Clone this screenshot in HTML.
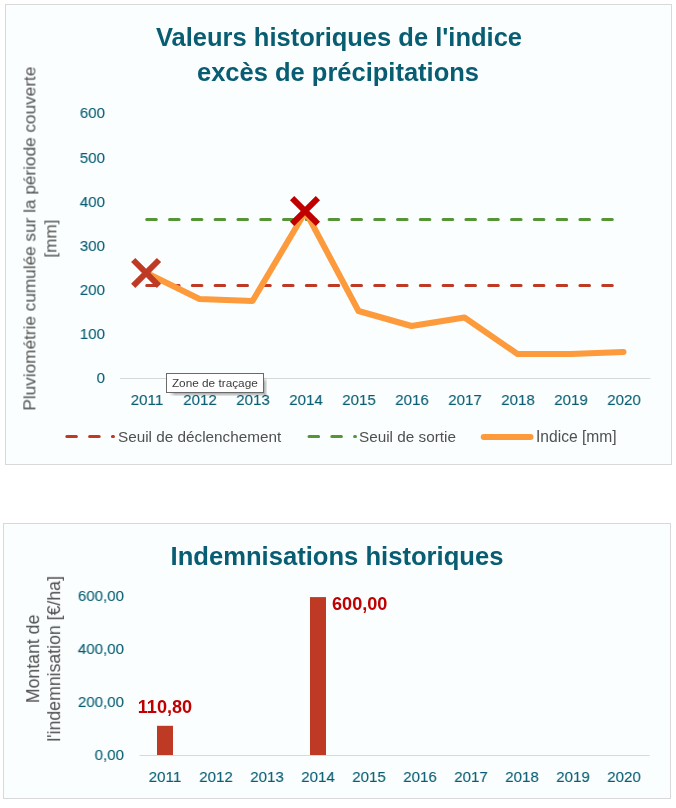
<!DOCTYPE html>
<html><head><meta charset="utf-8">
<style>
html,body{margin:0;padding:0;background:#fff;}
body{width:676px;height:808px;position:relative;overflow:hidden;font-family:"Liberation Sans",sans-serif;}
.box{position:absolute;box-sizing:border-box;border:1px solid #D9D9D9;background:#FAFEFE;}
.t{position:absolute;white-space:pre;will-change:transform;}
.tip{position:absolute;box-sizing:border-box;left:166px;top:373px;width:98px;height:20px;background:#fff;border:1px solid #6A6A6A;font-size:11.8px;color:#3C3C3C;}
.shr{position:absolute;left:264px;top:377px;width:3px;height:19px;background:linear-gradient(to right,rgba(0,0,0,0.32),rgba(0,0,0,0.08));-webkit-mask-image:linear-gradient(to bottom,transparent 0,#000 5px);}
.shb{position:absolute;left:169px;top:393px;width:95px;height:3px;background:linear-gradient(to bottom,rgba(0,0,0,0.32),rgba(0,0,0,0.08));-webkit-mask-image:linear-gradient(to right,transparent 0,#000 6px);}
</style></head><body>
<div class="box" style="left:5px;top:4px;width:667px;height:461px"></div>
<div class="box" style="left:3px;top:523px;width:668px;height:276px"></div>
<svg width="676" height="808" style="position:absolute;left:0;top:0">
<line x1="120" y1="378.5" x2="650.5" y2="378.5" stroke="#D9D9D9" stroke-width="1"/>
<line x1="146.7" y1="285.4" x2="623.5" y2="285.4" stroke="#BF3A24" stroke-width="3" stroke-linecap="round" stroke-dasharray="9.6 13.2"/>
<line x1="146.7" y1="219.4" x2="623.5" y2="219.4" stroke="#569536" stroke-width="3" stroke-linecap="round" stroke-dasharray="9.6 13.2"/>
<polyline points="146.5,273.0 199.5,299.0 252.5,301.0 305.5,211.5 358.5,311.0 411.5,326.0 464.5,317.5 517.5,354.0 570.5,354.0 623.5,352.0" fill="none" stroke="#FD9A3C" stroke-width="6" stroke-linejoin="round" stroke-linecap="round"/>
<path d="M133.2,260.0L159.0,285.79999999999995M159.0,260.0L133.2,285.79999999999995" stroke="#BF3A24" stroke-width="6" fill="none" stroke-linecap="butt"/>
<path d="M292.1,198.1L317.9,223.9M317.9,198.1L292.1,223.9" stroke="#C00000" stroke-width="6" fill="none" stroke-linecap="butt"/>
<!-- legend samples -->
<line x1="66.8" y1="436.5" x2="113.5" y2="436.5" stroke="#BF3A24" stroke-width="3" stroke-linecap="round" stroke-dasharray="9.6 13.2"/>
<line x1="309" y1="436.5" x2="355.5" y2="436.5" stroke="#569536" stroke-width="3" stroke-linecap="round" stroke-dasharray="9.6 13.2"/>
<line x1="483.7" y1="436.9" x2="530.5" y2="436.9" stroke="#FD9A3C" stroke-width="6" stroke-linecap="round"/>
<!-- chart 2 -->
<line x1="139.5" y1="755.5" x2="649.5" y2="755.5" stroke="#D9D9D9" stroke-width="1"/>
<rect x="157" y="725.8" width="16" height="29.2" fill="#BF3A24"/>
<rect x="310" y="597.1" width="16" height="157.9" fill="#BF3A24"/>
</svg>
<div class="t" style="top:24.71px;font-size:25.5px;line-height:25.5px;color:#085D72;font-weight:bold;left:-61.40px;width:800px;text-align:center;">Valeurs historiques de l'indice</div>
<div class="t" style="top:59.91px;font-size:25.5px;line-height:25.5px;color:#085D72;font-weight:bold;left:-62.20px;width:800px;text-align:center;">excès de précipitations</div>
<div class="t" style="left:-270.06px;top:229.90px;width:600px;font-size:17.2px;line-height:17.2px;color:#505050;text-align:center;transform:rotate(-90deg) scaleX(1.0);transform-origin:center center;">Pluviométrie cumulée sur la période couverte</div>
<div class="t" style="left:-248.76px;top:229.90px;width:600px;font-size:17.2px;line-height:17.2px;color:#505050;text-align:center;transform:rotate(-90deg) scaleX(1.0);transform-origin:center center;">[mm]</div>
<div class="t" style="top:105.45px;font-size:15.3px;line-height:15.3px;color:#085D72;-webkit-text-stroke:0.12px #085D72;left:-695.20px;width:800px;text-align:right;transform:scaleX(0.986);transform-origin:right center;">600</div>
<div class="t" style="top:149.55px;font-size:15.3px;line-height:15.3px;color:#085D72;-webkit-text-stroke:0.12px #085D72;left:-695.20px;width:800px;text-align:right;transform:scaleX(0.986);transform-origin:right center;">500</div>
<div class="t" style="top:193.65px;font-size:15.3px;line-height:15.3px;color:#085D72;-webkit-text-stroke:0.12px #085D72;left:-695.20px;width:800px;text-align:right;transform:scaleX(0.986);transform-origin:right center;">400</div>
<div class="t" style="top:237.75px;font-size:15.3px;line-height:15.3px;color:#085D72;-webkit-text-stroke:0.12px #085D72;left:-695.20px;width:800px;text-align:right;transform:scaleX(0.986);transform-origin:right center;">300</div>
<div class="t" style="top:281.85px;font-size:15.3px;line-height:15.3px;color:#085D72;-webkit-text-stroke:0.12px #085D72;left:-695.20px;width:800px;text-align:right;transform:scaleX(0.986);transform-origin:right center;">200</div>
<div class="t" style="top:325.95px;font-size:15.3px;line-height:15.3px;color:#085D72;-webkit-text-stroke:0.12px #085D72;left:-695.20px;width:800px;text-align:right;transform:scaleX(0.986);transform-origin:right center;">100</div>
<div class="t" style="top:370.05px;font-size:15.3px;line-height:15.3px;color:#085D72;-webkit-text-stroke:0.12px #085D72;left:-695.20px;width:800px;text-align:right;transform:scaleX(0.986);transform-origin:right center;">0</div>
<div class="t" style="top:392.45px;font-size:15.3px;line-height:15.3px;color:#085D72;-webkit-text-stroke:0.12px #085D72;left:-253.50px;width:800px;text-align:center;transform:scaleX(0.986);transform-origin:center center;">2011</div>
<div class="t" style="top:392.45px;font-size:15.3px;line-height:15.3px;color:#085D72;-webkit-text-stroke:0.12px #085D72;left:-200.50px;width:800px;text-align:center;transform:scaleX(0.986);transform-origin:center center;">2012</div>
<div class="t" style="top:392.45px;font-size:15.3px;line-height:15.3px;color:#085D72;-webkit-text-stroke:0.12px #085D72;left:-147.50px;width:800px;text-align:center;transform:scaleX(0.986);transform-origin:center center;">2013</div>
<div class="t" style="top:392.45px;font-size:15.3px;line-height:15.3px;color:#085D72;-webkit-text-stroke:0.12px #085D72;left:-94.50px;width:800px;text-align:center;transform:scaleX(0.986);transform-origin:center center;">2014</div>
<div class="t" style="top:392.45px;font-size:15.3px;line-height:15.3px;color:#085D72;-webkit-text-stroke:0.12px #085D72;left:-41.50px;width:800px;text-align:center;transform:scaleX(0.986);transform-origin:center center;">2015</div>
<div class="t" style="top:392.45px;font-size:15.3px;line-height:15.3px;color:#085D72;-webkit-text-stroke:0.12px #085D72;left:11.50px;width:800px;text-align:center;transform:scaleX(0.986);transform-origin:center center;">2016</div>
<div class="t" style="top:392.45px;font-size:15.3px;line-height:15.3px;color:#085D72;-webkit-text-stroke:0.12px #085D72;left:64.50px;width:800px;text-align:center;transform:scaleX(0.986);transform-origin:center center;">2017</div>
<div class="t" style="top:392.45px;font-size:15.3px;line-height:15.3px;color:#085D72;-webkit-text-stroke:0.12px #085D72;left:117.50px;width:800px;text-align:center;transform:scaleX(0.986);transform-origin:center center;">2018</div>
<div class="t" style="top:392.45px;font-size:15.3px;line-height:15.3px;color:#085D72;-webkit-text-stroke:0.12px #085D72;left:170.50px;width:800px;text-align:center;transform:scaleX(0.986);transform-origin:center center;">2019</div>
<div class="t" style="top:392.45px;font-size:15.3px;line-height:15.3px;color:#085D72;-webkit-text-stroke:0.12px #085D72;left:223.50px;width:800px;text-align:center;transform:scaleX(0.986);transform-origin:center center;">2020</div>
<div class="t" style="top:429.25px;font-size:15.3px;line-height:15.3px;color:#505050;left:117.60px;">Seuil de déclenchement</div>
<div class="t" style="top:429.25px;font-size:15.3px;line-height:15.3px;color:#505050;left:359.20px;">Seuil de sortie</div>
<div class="t" style="top:428.99px;font-size:15.6px;line-height:15.6px;color:#505050;left:536.10px;">Indice [mm]</div>
<div class="t" style="top:543.63px;font-size:25.6px;line-height:25.6px;color:#085D72;font-weight:bold;left:-62.80px;width:800px;text-align:center;">Indemnisations historiques</div>
<div class="t" style="left:-266.43px;top:650.15px;width:600px;font-size:17.7px;line-height:17.7px;color:#505050;text-align:center;transform:rotate(-90deg) scaleX(1.0);transform-origin:center center;">Montant de</div>
<div class="t" style="left:-244.73px;top:650.15px;width:600px;font-size:17.7px;line-height:17.7px;color:#505050;text-align:center;transform:rotate(-90deg) scaleX(1.0);transform-origin:center center;">l'indemnisation [€/ha]</div>
<div class="t" style="top:588.05px;font-size:15.3px;line-height:15.3px;color:#085D72;-webkit-text-stroke:0.12px #085D72;left:-676.20px;width:800px;text-align:right;transform:scaleX(0.986);transform-origin:right center;">600,00</div>
<div class="t" style="top:641.15px;font-size:15.3px;line-height:15.3px;color:#085D72;-webkit-text-stroke:0.12px #085D72;left:-676.20px;width:800px;text-align:right;transform:scaleX(0.986);transform-origin:right center;">400,00</div>
<div class="t" style="top:694.25px;font-size:15.3px;line-height:15.3px;color:#085D72;-webkit-text-stroke:0.12px #085D72;left:-676.20px;width:800px;text-align:right;transform:scaleX(0.986);transform-origin:right center;">200,00</div>
<div class="t" style="top:747.35px;font-size:15.3px;line-height:15.3px;color:#085D72;-webkit-text-stroke:0.12px #085D72;left:-676.20px;width:800px;text-align:right;transform:scaleX(0.986);transform-origin:right center;">0,00</div>
<div class="t" style="top:768.85px;font-size:15.3px;line-height:15.3px;color:#085D72;-webkit-text-stroke:0.12px #085D72;left:-234.90px;width:800px;text-align:center;transform:scaleX(0.986);transform-origin:center center;">2011</div>
<div class="t" style="top:768.85px;font-size:15.3px;line-height:15.3px;color:#085D72;-webkit-text-stroke:0.12px #085D72;left:-183.90px;width:800px;text-align:center;transform:scaleX(0.986);transform-origin:center center;">2012</div>
<div class="t" style="top:768.85px;font-size:15.3px;line-height:15.3px;color:#085D72;-webkit-text-stroke:0.12px #085D72;left:-132.90px;width:800px;text-align:center;transform:scaleX(0.986);transform-origin:center center;">2013</div>
<div class="t" style="top:768.85px;font-size:15.3px;line-height:15.3px;color:#085D72;-webkit-text-stroke:0.12px #085D72;left:-81.90px;width:800px;text-align:center;transform:scaleX(0.986);transform-origin:center center;">2014</div>
<div class="t" style="top:768.85px;font-size:15.3px;line-height:15.3px;color:#085D72;-webkit-text-stroke:0.12px #085D72;left:-30.90px;width:800px;text-align:center;transform:scaleX(0.986);transform-origin:center center;">2015</div>
<div class="t" style="top:768.85px;font-size:15.3px;line-height:15.3px;color:#085D72;-webkit-text-stroke:0.12px #085D72;left:20.10px;width:800px;text-align:center;transform:scaleX(0.986);transform-origin:center center;">2016</div>
<div class="t" style="top:768.85px;font-size:15.3px;line-height:15.3px;color:#085D72;-webkit-text-stroke:0.12px #085D72;left:71.10px;width:800px;text-align:center;transform:scaleX(0.986);transform-origin:center center;">2017</div>
<div class="t" style="top:768.85px;font-size:15.3px;line-height:15.3px;color:#085D72;-webkit-text-stroke:0.12px #085D72;left:122.10px;width:800px;text-align:center;transform:scaleX(0.986);transform-origin:center center;">2018</div>
<div class="t" style="top:768.85px;font-size:15.3px;line-height:15.3px;color:#085D72;-webkit-text-stroke:0.12px #085D72;left:173.10px;width:800px;text-align:center;transform:scaleX(0.986);transform-origin:center center;">2019</div>
<div class="t" style="top:768.85px;font-size:15.3px;line-height:15.3px;color:#085D72;-webkit-text-stroke:0.12px #085D72;left:224.10px;width:800px;text-align:center;transform:scaleX(0.986);transform-origin:center center;">2020</div>
<div class="t" style="top:699.19px;font-size:17.5px;line-height:17.5px;color:#C00000;font-weight:bold;left:-235.00px;width:800px;text-align:center;transform:scaleX(1.035);transform-origin:center center;">110,80</div>
<div class="t" style="top:595.99px;font-size:17.5px;line-height:17.5px;color:#C00000;font-weight:bold;left:331.80px;transform:scaleX(1.035);transform-origin:left center;">600,00</div>
<div class="shr"></div><div class="shb"></div>
<div class="tip"><span style="position:absolute;left:4.9px;top:1.9px;line-height:14px">Zone de traçage</span></div>
</body></html>
